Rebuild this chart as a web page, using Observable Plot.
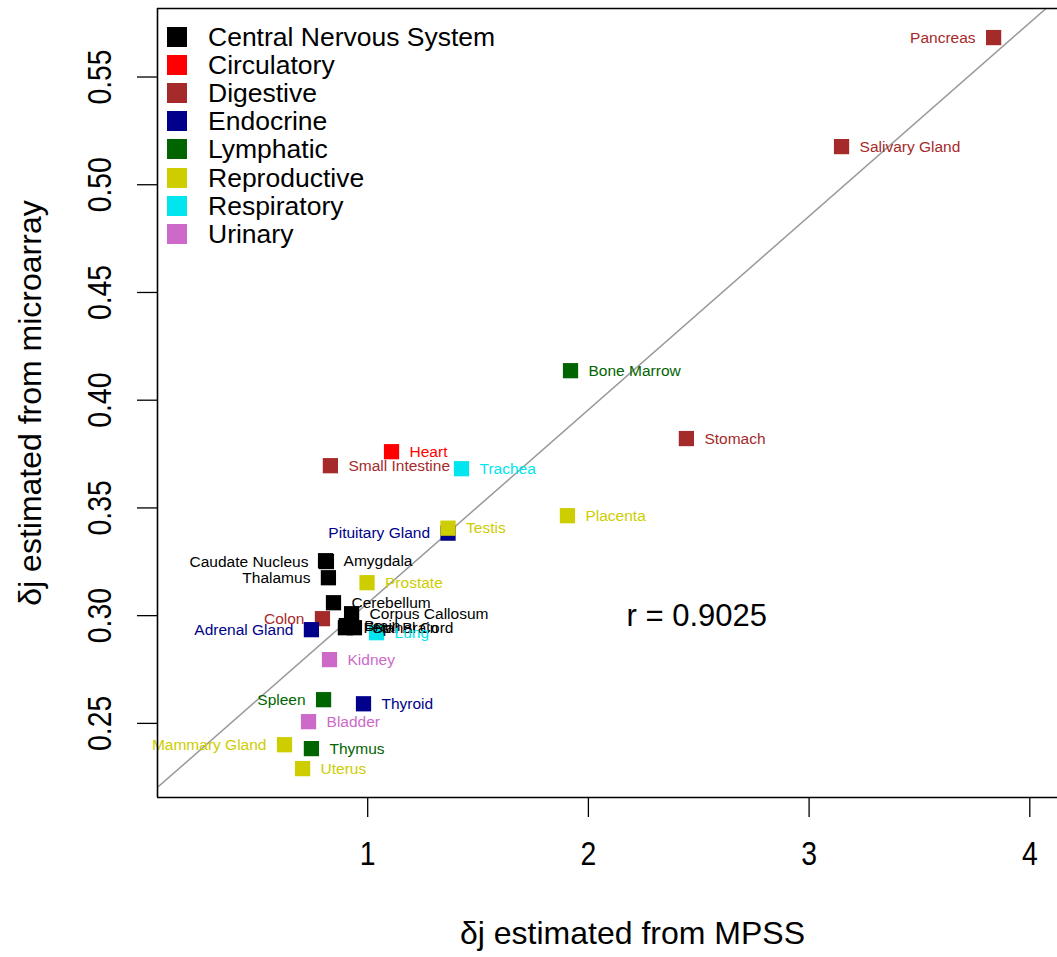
<!DOCTYPE html>
<html><head><meta charset="utf-8">
<script src="https://cdn.jsdelivr.net/npm/d3@7"></script>
<script src="https://cdn.jsdelivr.net/npm/@observablehq/plot@0.6"></script>
<style>
body{margin:0;background:#fff;overflow:hidden;font-family:"Liberation Sans",Arial,sans-serif}
#wrap{position:relative;width:1057px;height:957px}
#legend{position:absolute;left:167px;top:23px}
.row{height:28.1px;display:flex;align-items:center}
.sw{width:20px;height:20px;margin-right:21px;flex:none}
.lt{font-size:26.5px;color:#000;white-space:nowrap;line-height:28px}
</style>
</head><body>
<div id="wrap"><div id="chart"></div><div id="legend"></div></div>
<script>
// ---- data ----
const tissues = ["Pancreas","Salivary Gland","Bone Marrow","Stomach","Heart","Small Intestine","Trachea","Placenta","Pituitary Gland","Testis","Amygdala","Caudate Nucleus","Thalamus","Prostate","Cerebellum","Colon","Corpus Callosum","Adrenal Gland","Brain","Fetal Brain","Spinal Cord","Lung","Kidney","Spleen","Thyroid","Bladder","Mammary Gland","Thymus","Uterus"];
const mpss = [3.836,3.147,1.919,2.444,1.108,0.831,1.425,1.905,1.364,1.364,0.809,0.813,0.822,0.997,0.845,0.795,0.927,0.745,0.903,0.899,0.940,1.040,0.827,0.800,0.981,0.732,0.623,0.745,0.705];
const microarray = [0.5683,0.5177,0.4137,0.3822,0.3761,0.3696,0.3682,0.3464,0.3383,0.3406,0.3255,0.3251,0.3176,0.3153,0.3060,0.2986,0.3009,0.2935,0.2954,0.2944,0.2944,0.2921,0.2796,0.2610,0.2591,0.2508,0.2401,0.2383,0.2290];
const systems = ["Digestive","Digestive","Lymphatic","Digestive","Circulatory","Digestive","Respiratory","Reproductive","Endocrine","Reproductive","Central Nervous System","Central Nervous System","Central Nervous System","Reproductive","Central Nervous System","Digestive","Central Nervous System","Endocrine","Central Nervous System","Central Nervous System","Central Nervous System","Respiratory","Urinary","Lymphatic","Endocrine","Urinary","Reproductive","Lymphatic","Reproductive"];
const categories = ["Central Nervous System","Circulatory","Digestive","Endocrine","Lymphatic","Reproductive","Respiratory","Urinary"];
const categoryColors = ["#000000","#ff0000","#a52a2a","#00008b","#006400","#cdcd00","#00e5ee","#cd69c9"];
const leftLabelled = ["Pancreas","Pituitary Gland","Caudate Nucleus","Thalamus","Colon","Adrenal Gland","Spleen","Mammary Gland"];
const xTicks = [1,2,3,4];
const yTicks = [0.25,0.30,0.35,0.40,0.45,0.50,0.55];
const fitIntercept = 0.216, fitSlope = 0.0898;
const rText = "r = 0.9025", rAt = [2.173, 0.300];
const xTitle = "δj estimated from MPSS", yTitle = "δj estimated from microarray";

const xDomain = [0.0476, 4.1255], yDomain = [0.2156, 0.5818];
const data = tissues.map((t,i)=>({tissue:t, x:mpss[i], y:microarray[i], sys:systems[i]}));
const colorOf = new Map(categories.map((c,i)=>[c,categoryColors[i]]));
const fitLine = [xDomain[0]-0.1, xDomain[1]+0.3].map(x=>({x, y:fitIntercept+fitSlope*x}));

const chart = Plot.plot({
  width:1057, height:957,
  marginLeft:157, marginRight:0, marginTop:8, marginBottom:160,
  style:{fontFamily:"Liberation Sans, Arial, sans-serif", background:"#fff", color:"#000"},
  x:{domain:xDomain},
  y:{domain:yDomain},
  color:{domain:categories, range:categoryColors},
  marks:[
    Plot.line(fitLine, {x:"x", y:"y", stroke:"#999", strokeWidth:1.5, clip:true}),
    Plot.dot(data, {x:"x", y:"y", fill:"sys", symbol:"square", r:8.6}),
    Plot.text(data.filter(d=>!leftLabelled.includes(d.tissue)), {x:"x", y:"y", text:"tissue", fill:d=>colorOf.get(d.sys), textAnchor:"start", dx:18, fontSize:15.5}),
    Plot.text(data.filter(d=>leftLabelled.includes(d.tissue)), {x:"x", y:"y", text:"tissue", fill:d=>colorOf.get(d.sys), textAnchor:"end", dx:-18, fontSize:15.5}),
    Plot.text([rText], {x:()=>rAt[0], y:()=>rAt[1], text:d=>d, textAnchor:"start", fontSize:31}),
    Plot.ruleX([xDomain[0]], {stroke:"#000", strokeWidth:1.6}),
    Plot.ruleY([yDomain[0], yDomain[1]], {stroke:"#000", strokeWidth:1.6}),
    Plot.axisX({ticks:xTicks, tickSize:20, tickPadding:24, fontSize:33, label:null, tickFormat:d3.format("d"), strokeWidth:1.3}),
    Plot.axisY({ticks:yTicks, tickSize:20, tickPadding:27, tickRotate:-90, fontSize:33, label:null, tickFormat:d3.format(".2f"), strokeWidth:1.3}),
    Plot.text([yTitle], {frameAnchor:"left", dx:-127, rotate:-90, fontSize:32, textAnchor:"middle", text:d=>d}),
    Plot.text([xTitle], {frameAnchor:"bottom", dy:146, dx:25, fontSize:32, textAnchor:"middle", text:d=>d})
  ]
});
// condense y tick labels along their reading direction (narrow Helvetica look)
chart.querySelectorAll('g[aria-label="y-axis tick label"] text').forEach(t=>{
  const tr = t.getAttribute("transform") || "";
  t.setAttribute("transform", tr + " scale(0.86,1)");
});
chart.querySelectorAll('g[aria-label="x-axis tick label"] text').forEach(t=>{
  const tr = t.getAttribute("transform") || "";
  t.setAttribute("transform", tr + " scale(0.86,1)");
});
document.getElementById("chart").appendChild(chart);

const legend = document.getElementById("legend");
categories.forEach((c,i)=>{
  const row = document.createElement("div"); row.className="row";
  const sw = document.createElement("div"); sw.className="sw"; sw.style.background=categoryColors[i];
  const lt = document.createElement("span"); lt.className="lt"; lt.textContent=c;
  row.appendChild(sw); row.appendChild(lt); legend.appendChild(row);
});
</script>
</body></html>
